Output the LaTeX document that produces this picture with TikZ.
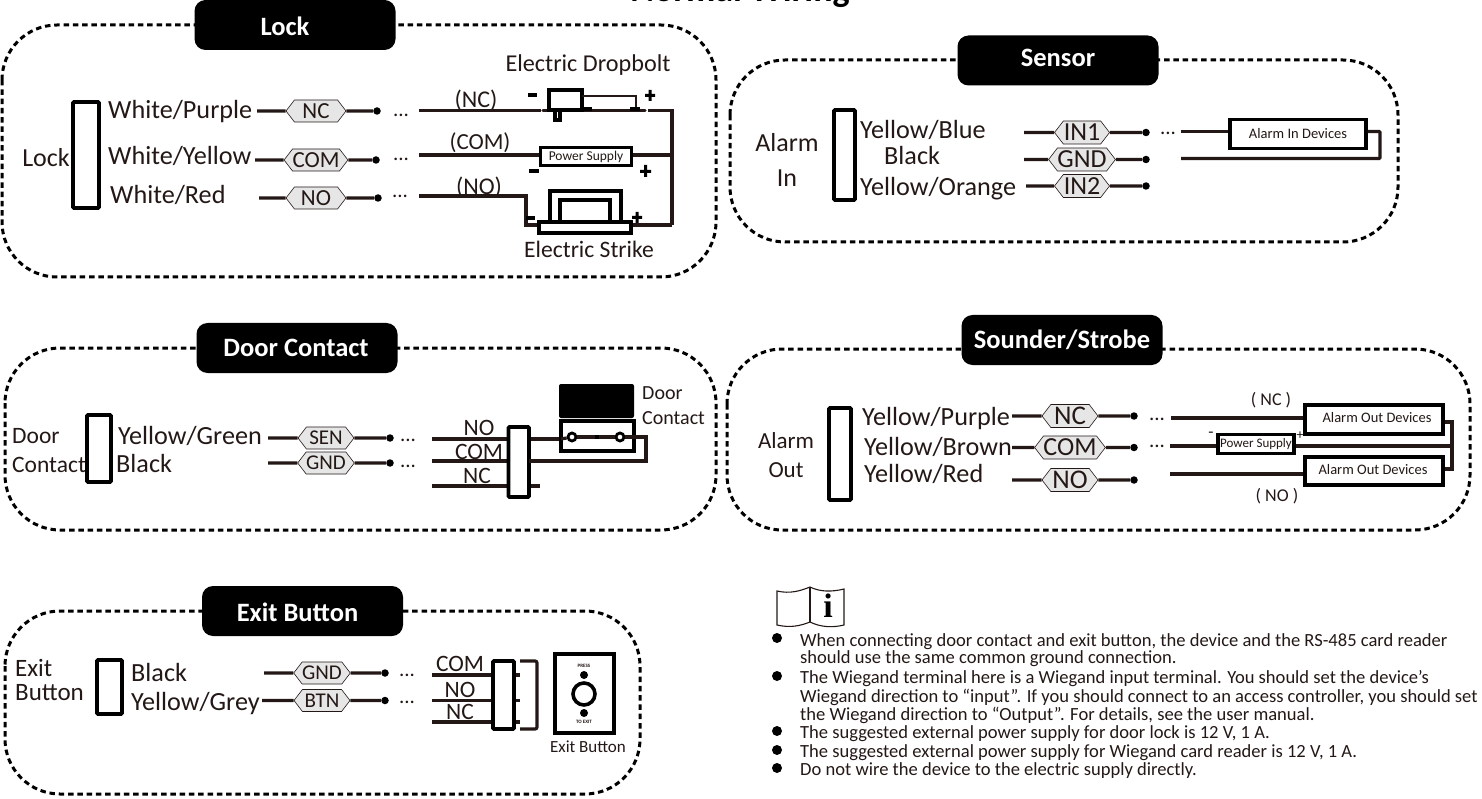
\documentclass[tikz,border=0pt]{standalone}
\usepackage{fontspec}
\setmainfont{Carlito}
\newfontfamily\iconfont{Liberation Serif}
\usetikzlibrary{shapes.symbols,calc}
\definecolor{ink}{HTML}{231815}
\definecolor{tagfill}{HTML}{E6E6E6}
\tikzset{
  frame/.style={draw=black,line width=3pt,dash pattern=on 5.5pt off 3.8pt,rounded corners=55pt},
  pill/.style={fill=black,rounded corners=11pt,text=white,font=\fontsize{26.5}{26}\selectfont\bfseries,minimum width=201pt,minimum height=50pt,inner sep=0pt},
  pilltxt/.style={inner sep=0pt,text=white,font=\fontsize{26.5}{26}\selectfont\bfseries},
  wire/.style={draw=ink,line width=3.2pt},
  conn/.style={draw=black,fill=white,line width=3.6pt,rounded corners=1pt,inner sep=0pt},
  devbox/.style={draw=black,fill=white,line width=3.4pt,inner sep=0pt,text=ink},
  dot/.style={circle,fill=black,inner sep=0pt,minimum size=7.5pt},
  hextag/.style={signal,signal to=west and east,signal pointer angle=105,draw=ink,fill=tagfill,line width=.6pt,inner sep=0pt,text=ink,minimum height=22pt,minimum width=60pt},
  lbl/.style={inner sep=0pt,text=ink,font=\fontsize{26.2}{26}\selectfont},
  lblw/.style={lbl,anchor=west},
  mid/.style={inner sep=0pt,text=ink,font=\fontsize{23.5}{24}\selectfont},
  tiny/.style={inner sep=0pt,text=ink,font=\fontsize{14.5}{15}\selectfont},
  note/.style={anchor=west,inner sep=0pt,text=ink,font=\fontsize{18.55}{19}\selectfont},
  bul/.style={circle,fill=black,inner sep=0pt,minimum size=10pt},
  ell/.style={inner sep=0pt,text=ink,font=\fontsize{21}{21}\selectfont},
}
\newcommand{\wrow}[7][]{%
  \coordinate (#2-s) at (#3,#5);
  \node[hextag,#1] (#2) at (#4,#5) {#7};
  \node[dot] (#2-d) at (#6,#5) {};
  \draw[wire] (#2-s) -- (#2);
  \draw[wire] (#2) -- (#2-d);
}
\newcommand{\rbox}[6][conn]{\node[#1,minimum width=#4pt-#3pt,minimum height=#6pt-#5pt] (#2) at ({(#3+#4)/2},{(#5+#6)/2}) {};}
\begin{document}
\begin{tikzpicture}[x=1pt,y=-1pt]
\useasboundingbox (0,0) rectangle (1482,799);
\clip (0,0) rectangle (1482,799);

\node[inner sep=0pt,anchor=base,text=black,font=\fontsize{36}{36}\selectfont\bfseries] (title) at (740,1.5) {Normal Wiring};

% frames
\draw[frame] (2,25) rectangle (716,277);
\draw[frame] (730,60) rectangle (1398,242);
\draw[frame] (5,348) rectangle (716,530);
\draw[frame] (727,349) rectangle (1470,530);
\draw[frame] (5,611) rectangle (640,794);
\node[pill] (p1) at (295,25) {};
\node[pilltxt] (p1t) at (285,26) {Lock};
\node[pill] (p2) at (1058,60.5) {};
\node[pilltxt] (p2t) at (1058,57.5) {Sensor};
\node[pill] (p3) at (297,348) {};
\node[pilltxt] (p3t) at (296,348) {Door Contact};
\node[pill] (p4) at (1062,340) {Sounder/Strobe};
\node[pill] (p5) at (302.5,611) {};
\node[pilltxt] (p5t) at (297.5,612) {Exit Button};

% ---------- Lock
\rbox{lockc}{73}{99}{102}{208}
\node[mid] (l0) at (46,158) {\fontsize{26}{26}\selectfont Lock};
\node[lblw] (l1) at (108,111.5) {White/Purple};
\node[lblw] (l2) at (108,156) {White/Yellow};
\node[lblw] (l3) at (110,195) {White/Red};
\wrow{lnc}{257}{316}{111}{377}{\fontsize{23}{23}\selectfont NC}
\wrow{lcom}{255}{316}{160}{376}{\fontsize{23}{23}\selectfont COM}
\wrow{lno}{259}{316}{198}{378}{\fontsize{23}{23}\selectfont NO}
\node[ell] (le1) at (401,115) {...};
\node[ell] (le2) at (401,159) {...};
\node[ell] (le3) at (400,196) {...};
\node[mid,font=\fontsize{24}{24}\selectfont] (lb1) at (476,100) {(NC)};
\node[mid,font=\fontsize{23}{23}\selectfont] (lb2) at (480,143) {(COM)};
\node[mid,font=\fontsize{24}{24}\selectfont] (lb3) at (479,187) {(NO)};
\node[mid,font=\fontsize{24.2}{24}\selectfont] (lb4) at (588,65) {Electric Dropbolt};
\node[mid,font=\fontsize{23.6}{24}\selectfont] (lb5) at (589,249) {Electric Strike};
% dropbolt
\coordinate (a1) at (419,110.5);
\coordinate (a2) at (541,110.5);
\coordinate (a3) at (543,110.5);
\coordinate (a4) at (645,110.5);
\coordinate (a5) at (648,110.5);
\coordinate (a6) at (672,110.5);
\coordinate (a7) at (672,225);
\draw[wire] (a1) -- (a2);
\draw[wire,line cap=round] (a3) -- (a4);
\draw[wire] (a5) -- (a6);
\draw[wire,line width=3.6pt] ($(a6)+(0,-1.6)$) -- (a7);
\rbox[devbox]{bolt}{549}{582}{90}{110}
\rbox[devbox]{boltp}{555}{560}{110}{120}
\coordinate (b1) at (582,96);
\coordinate (b2) at (636,96);
\coordinate (b3) at (636,110);
\draw[wire,line width=2.6pt] (b1) -- (b2) -- (b3);
\fill[black] (582,107) rectangle (592,111);
\fill[black] (630,107) rectangle (640,111);
\fill[black] (528,93) rectangle (537,97);
\fill[black] (645,94) rectangle (655,97) (648.5,90) rectangle (651.5,101);
% power supply
\coordinate (c1) at (419,155);
\node[devbox,minimum width=91pt,minimum height=18pt,font=\fontsize{13.5}{14}\selectfont] (lps) at (586,156.5) {Power Supply};
\coordinate (c2) at (672,155);
\draw[wire] (c1) -- (lps.west |- c1);
\draw[wire] (lps.east |- c2) -- (c2);
\fill[black] (529,169.5) rectangle (539,173);
\fill[black] (640,170) rectangle (651,173) (644,165) rectangle (647,177);
% strike
\rbox[devbox]{so}{550}{621}{191}{224}
\rbox[devbox]{si}{560}{610}{200}{224}
\rbox[devbox]{sb}{539}{631}{222}{233}
\coordinate (d1) at (419,196);
\coordinate (d2) at (526,196);
\coordinate (d3) at (526,225);
\draw[wire] (d1) -- (d2) -- (d3) -- (sb.west |- d3);
\draw[wire] (sb.east |- a7) -- (a7);
\fill[black] (526,216) rectangle (535,220);
\fill[black] (632,216) rectangle (642,219) (635.5,212) rectangle (638.5,223);

% ---------- Sensor
\rbox{senc}{834}{855}{110}{200}
\node[mid,font=\fontsize{26}{26}\selectfont] (s0) at (787,143) {Alarm};
\node[mid,font=\fontsize{26}{26}\selectfont] (s00) at (787,178) {In};
\node[lblw] (s1) at (860,130) {Yellow/Blue};
\node[lblw] (s2) at (884,156) {Black};
\node[lblw] (s3) at (860,189) {Yellow/Orange};
\wrow[minimum width=55pt,minimum height=23pt]{sin}{1024}{1082}{132.5}{1146}{\fontsize{26}{26}\selectfont IN1}
\wrow[minimum width=55pt,minimum height=23pt]{sgn}{1024}{1082}{159.5}{1146}{\fontsize{26}{26}\selectfont GND}
\wrow[minimum width=55pt,minimum height=23pt]{sio}{1026}{1082}{186}{1146}{\fontsize{26}{26}\selectfont IN2}
\node[ell] (se1) at (1168,133.5) {...};
\node[devbox,minimum width=136pt,minimum height=29pt,font=\fontsize{14.5}{15}\selectfont] (aid) at (1298,134) {Alarm In Devices};
\coordinate (e1) at (1181,131.5);
\coordinate (e2) at (1380,131.5);
\coordinate (e3) at (1380,158.5);
\coordinate (e4) at (1181,158.5);
\draw[wire] (e1) -- (aid.west |- e1);
\draw[wire,rounded corners=1pt] (aid.east |- e2) -- (e2) -- (e3) -- (e4);

% ---------- Door contact
\rbox{dcc}{87}{111}{415}{482}
\node[mid,anchor=west] (dc0) at (12,436) {Door};
\node[mid,anchor=west] (dc00) at (12,465) {Contact};
\node[lblw] (dc1) at (118,436) {Yellow/Green};
\node[lblw] (dc2) at (116,463) {Black};
\wrow[minimum width=56pt]{dsen}{268}{326}{438}{390}{\fontsize{21}{21}\selectfont SEN}
\wrow[minimum width=56pt]{dgnd}{268}{326}{463}{390}{\fontsize{21}{21}\selectfont GND}
\node[ell] (de1) at (408,440) {...};
\node[ell] (de2) at (408,466) {...};
\coordinate (f1) at (432,439);
\coordinate (f2) at (432,461);
\coordinate (f3) at (432,486);
\coordinate (f4) at (540,486);
\coordinate (f5) at (646,437);
\coordinate (f6) at (646,461);
\draw[wire] (f1) -- (560,439);
\draw[wire] (f2) -- (520,461);
\draw[wire] (f3) -- (f4);
\rbox{dcb}{508.5}{529}{427}{497}
\node[mid] (dn1) at (479,428) {NO};
\node[mid] (dn2) at (479,452) {COM};
\node[mid] (dn3) at (477,476) {NC};
\node[fill=black,rounded corners=2pt,minimum width=75pt,minimum height=34pt,inner sep=0pt] (dtop) at (596.5,401) {};
\rbox[devbox]{dev}{561}{634}{421}{451}
\coordinate (g0) at (561,439);
\node[circle,draw=black,line width=2.8pt,fill=white,minimum size=8pt,inner sep=0pt] (dl) at (572,437) {};
\node[circle,draw=black,line width=2.8pt,fill=white,minimum size=8pt,inner sep=0pt] (dr) at (620,437) {};
\draw[wire] (g0) -- (dl);
\draw[wire] (dl) -- (dr);
\fill[black] (595,435) rectangle (599,439);
\draw[wire] (dr) -- (f5) -- (f6) -- (529,461);
\node[mid,font=\fontsize{20}{20}\selectfont,anchor=west] (dd1) at (642,393) {Door};
\node[mid,font=\fontsize{20}{20}\selectfont,anchor=west] (dd2) at (642,418) {Contact};

% ---------- Sounder
\rbox{soc}{829}{851}{408}{500}
\node[mid,font=\fontsize{23}{23}\selectfont] (a0) at (786,441) {Alarm};
\node[mid,font=\fontsize{23}{23}\selectfont] (a00) at (786,470) {Out};
\node[lblw] (a11) at (862,419) {Yellow/Purple};
\node[lblw] (a12) at (864,447) {Yellow/Brown};
\node[lblw] (a13) at (864,474) {Yellow/Red};
\wrow[minimum width=56pt,minimum height=23pt]{snc}{1012}{1070}{416}{1134}{\fontsize{27}{27}\selectfont NC}
\wrow[minimum width=56pt,minimum height=23pt]{scm}{1012}{1070}{447.5}{1134}{\fontsize{26}{26}\selectfont COM}
\wrow[minimum width=56pt,minimum height=23pt]{sno}{1012}{1070}{480}{1134}{\fontsize{27}{27}\selectfont NO}
\node[ell] (ae1) at (1157,419) {...};
\node[ell] (ae2) at (1157,446) {...};
\node[mid,font=\fontsize{18}{18}\selectfont] (an1) at (1271,400) {( NC )};
\node[mid,font=\fontsize{18}{18}\selectfont] (an2) at (1277,496) {( NO )};
\rbox[devbox]{aod1}{1305}{1443}{405}{434}
\node[tiny] (aod1t) at (1377,418) {Alarm Out Devices};
\rbox[devbox]{aod2}{1305}{1443}{457}{485}
\node[tiny] (aod2t) at (1373,470) {Alarm Out Devices};
\node[devbox,minimum width=76pt,minimum height=19pt,font=\fontsize{13}{13}\selectfont] (aps) at (1256,444) {Power Supply};
\coordinate (h1) at (1171,418);
\coordinate (h2) at (1170,446);
\coordinate (h3) at (1170,474);
\coordinate (h4) at (1452,446);
\coordinate (h5) at (1452,422);
\coordinate (h6) at (1452,469);
\draw[wire] (h1) -- (aod1.west |- h1);
\draw[wire] (h2) -- (aps.west |- h2);
\draw[wire] (aps.east |- h4) -- (h4);
\draw[wire] (h3) -- (aod2.west |- h3);
\draw[wire] (aod1.east |- h5) -- (h5) -- (h6) -- (aod2.east |- h6);
\node[inner sep=0pt,text=ink,font=\fontsize{17}{17}\selectfont] (am) at (1211,435) {-};
\node[inner sep=0pt,text=ink,font=\fontsize{14}{14}\selectfont] (ap) at (1300,436) {+};

% ---------- Exit
\rbox{exc}{97}{122}{660}{714}
\node[mid,font=\fontsize{25}{25}\selectfont,anchor=west] (x0) at (15,668) {Exit};
\node[mid,font=\fontsize{25}{25}\selectfont,anchor=west] (x00) at (15,693) {Button};
\node[lblw] (x1) at (131,672) {Black};
\node[lblw] (x2) at (131,704) {Yellow/Grey};
\wrow[minimum width=56pt]{xg}{264}{322}{673}{385}{\fontsize{21}{21}\selectfont GND}
\wrow[minimum width=56pt]{xb}{262}{322}{700.5}{385}{\fontsize{21}{21}\selectfont BTN}
\node[ell] (xe1) at (407,675) {...};
\node[ell] (xe2) at (407,702) {...};
\coordinate (i1) at (432,675);
\coordinate (i2) at (432,700.5);
\coordinate (i3) at (432,722);
\draw[wire] (i1) -- (520,675);
\draw[wire] (i2) -- (520,700.5);
\draw[wire] (i3) -- (520,722);
\rbox{exb}{493}{514}{661}{729}
\coordinate (j1) at (520,661);
\coordinate (j2) at (537,661);
\coordinate (j3) at (537,729);
\coordinate (j4) at (520,729);
\draw[wire,rounded corners=2pt] (j1) -- (j2) -- (j3) -- (j4);
\node[mid,font=\fontsize{23.5}{23}\selectfont] (xn1) at (460,664) {COM};
\node[mid,font=\fontsize{23.5}{23}\selectfont] (xn2) at (460,690) {NO};
\node[mid,font=\fontsize{23.5}{23}\selectfont] (xn3) at (460,712) {NC};
\rbox[devbox,line width=4pt]{xbox}{554.5}{614}{654}{733}
\node[inner sep=0pt,font=\fontsize{5}{5}\selectfont\bfseries,text=ink] (xp) at (584,666) {PRESS};
\node[inner sep=0pt,font=\fontsize{5}{5}\selectfont\bfseries,text=ink] (xt) at (584,722) {TO EXIT};
\node[circle,fill=black,minimum size=8pt,inner sep=0pt] (xd1) at (584,675) {};
\node[circle,fill=black,minimum size=8pt,inner sep=0pt] (xd2) at (584,713) {};
\node[circle,draw=black,line width=3.6pt,fill=white,minimum size=22pt,inner sep=0pt] (xr) at (584,694) {};
\node[mid,font=\fontsize{17}{17}\selectfont] (xl) at (588,747) {Exit Button};

% ---------- Notes
\draw[ink,line width=1.1pt] (777,591) .. controls (790,594) and (800,591) .. (810,587) .. controls (820,592) and (832,592) .. (844,589) -- (844,625) .. controls (832,628) and (820,627) .. (810,622) .. controls (800,626) and (790,628) .. (777,625) -- cycle;
\draw[ink,line width=1.1pt] (810,587) -- (810,622);
\node[inner sep=0pt,text=black,font=\iconfont\fontsize{34}{34}\selectfont\bfseries] (icon) at (828,606) {i};
\node[note] (n1) at (800,642) {When connecting door contact and exit button, the device and the RS-485 card reader};
\node[note] (n2) at (800,659) {should use the same common ground connection.};
\node[note] (n3) at (800,679) {The Wiegand terminal here is a Wiegand input terminal. You should set the device’s};
\node[note] (n4) at (800,697) {Wiegand direction to “input”. If you should connect to an access controller, you should set};
\node[note] (n5) at (800,715) {the Wiegand direction to “Output”. For details, see the user manual.};
\node[note] (n6) at (800,733.5) {The suggested external power supply for door lock is 12 V, 1 A.};
\node[note] (n7) at (800,752.5) {The suggested external power supply for Wiegand card reader is 12 V, 1 A.};
\node[note] (n8) at (800,770.5) {Do not wire the device to the electric supply directly.};
\node[bul] (b-1) at (777,638) {};
\node[bul] (b-2) at (777,676) {};
\node[bul] (b-3) at (777,731) {};
\node[bul] (b-4) at (777,750) {};
\node[bul] (b-5) at (777,768) {};
\end{tikzpicture}
\end{document}
